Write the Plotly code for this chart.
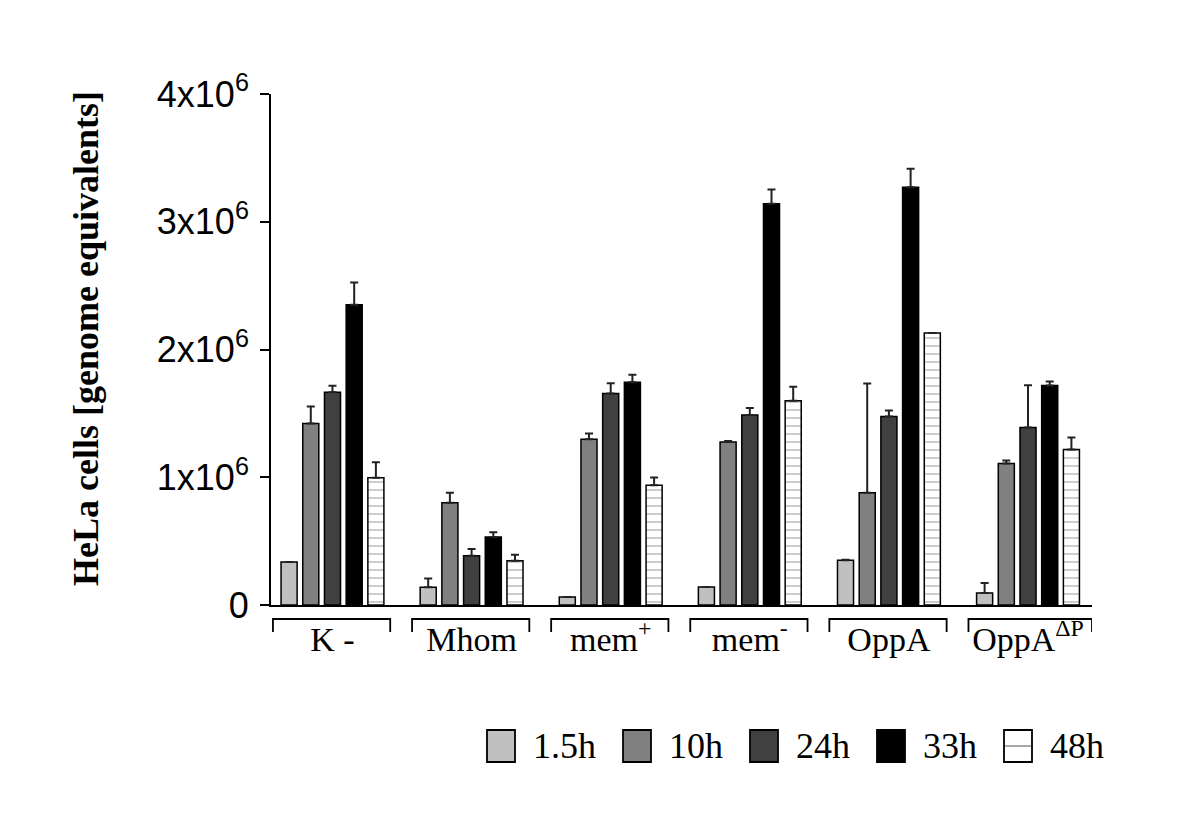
import plotly.graph_objects as go

# data (values in units of 10^6 genome equivalents)
groups = ["K -", "Mhom", "mem<sup>+</sup>", "mem<sup>-</sup>", "OppA", "OppA<sup>ΔP</sup>"]
times = ["1.5h", "10h", "24h", "33h", "48h"]

h1_5 = [0.337, 0.138, 0.063, 0.140, 0.350, 0.094]
h10 = [1.420, 0.800, 1.297, 1.275, 0.879, 1.107]
h24 = [1.666, 0.386, 1.655, 1.488, 1.475, 1.390]
h33 = [2.350, 0.532, 1.743, 3.140, 3.270, 1.719]
h48 = [0.997, 0.347, 0.938, 1.598, 2.130, 1.218]

err1_5 = [0.0, 0.070, 0.0, 0.0, 0.005, 0.078]
err10 = [0.133, 0.078, 0.045, 0.008, 0.854, 0.025]
err24 = [0.050, 0.052, 0.080, 0.054, 0.048, 0.330]
err33 = [0.174, 0.037, 0.060, 0.113, 0.145, 0.030]
err48 = [0.120, 0.047, 0.060, 0.110, 0.0, 0.094]

yticks = [0, 1, 2, 3, 4]
ytick_text = ["0"] + ["%dx10<sup>6</sup>" % v for v in yticks[1:]]

series = [h1_5, h10, h24, h33, h48]
errors = [err1_5, err10, err24, err33, err48]
fills = ["#c0c0c0", "#808080", "#404040", "#000000", "#ffffff"]

SCALE = 1e6
SERIF = "Liberation Serif, Times New Roman, serif"
SANS = "Liberation Sans, Arial, sans-serif"

# plot area in screen pixels; the page body adds an 8px margin
PAGE = 8
L, R, T, B = 271, 1092, 94, 605
XR = [-0.442, 5.46]


def px_x(p):
    return (p - L) / (R - L)


def px_y(p):
    return (B - p) / (B - T)


fig = go.Figure()
for name, vals, errs, col in zip(times, series, errors, fills):
    marker = dict(color=col, line=dict(color="black", width=1.5))
    if name == "48h":
        marker["pattern"] = dict(shape="-", fgcolor="#8c8c8c", bgcolor="white",
                                 size=8, solidity=0.22)
    fig.add_trace(go.Bar(
        name=name, x=groups, y=[v * SCALE for v in vals],
        marker=marker,
        error_y=dict(type="data", symmetric=False,
                     array=[e * SCALE for e in errs],
                     arrayminus=[0] * len(errs),
                     color="#222222", thickness=2, width=4),
        showlegend=False,
    ))

# brackets under each group
shapes = []
for i in range(len(groups)):
    x0 = i - 0.428
    x1 = i + 0.415 if i < len(groups) - 1 else XR[1]
    shapes.append(dict(
        type="path", xref="x", yref="paper",
        path="M %f,%f L %f,%f L %f,%f L %f,%f" % (
            x0, px_y(632), x0, px_y(619), x1, px_y(619), x1, px_y(632)),
        line=dict(color="black", width=1.8),
    ))

# hand-made legend with large swatches
annotations = []
char_w = {".": 0.25}
x = 487
for name, col in zip(times, fills):
    sw_x0, sw_x1 = x, x + 28
    shapes.append(dict(type="rect", xref="paper", yref="paper",
                       x0=px_x(sw_x0), x1=px_x(sw_x1), y0=px_y(762), y1=px_y(730),
                       fillcolor=col, line=dict(color="black", width=1.8)))
    if name == "48h":
        shapes.append(dict(type="line", xref="paper", yref="paper",
                           x0=px_x(sw_x0 + 1), x1=px_x(sw_x1 - 1),
                           y0=px_y(746), y1=px_y(746),
                           line=dict(color="#8a8a8a", width=1.5)))
    annotations.append(dict(text=name, xref="paper", yref="paper",
                            x=px_x(sw_x1 + 16), y=px_y(746),
                            xanchor="left", yanchor="middle", showarrow=False,
                            font=dict(family=SERIF, size=36, color="black")))
    tw = sum(char_w.get(c, 0.5) for c in name) * 36
    x += 28 + 17 + tw + 28

annotations.append(dict(
    text="<b>HeLa cells [genome equivalents]</b>", xref="paper", yref="paper",
    x=px_x(86), y=px_y(339), xanchor="center", yanchor="middle",
    textangle=-90, showarrow=False,
    font=dict(family=SERIF, size=36, color="black")))

fig.update_layout(
    width=1200, height=825,
    paper_bgcolor="white", plot_bgcolor="white",
    margin=dict(l=L - PAGE, r=1200 - R + PAGE, t=T - PAGE, b=825 - B + PAGE),
    barmode="group", bargap=0.22, bargroupgap=0.26,
    shapes=shapes, annotations=annotations,
    showlegend=False,
)
fig.update_xaxes(
    range=XR, showline=True, linecolor="black", linewidth=1.8,
    showgrid=False, ticks="", zeroline=False,
    tickfont=dict(family=SERIF, size=34, color="black"),
    ticklabelstandoff=3,
)
fig.update_yaxes(
    range=[0, 4 * SCALE], showline=True, linecolor="black", linewidth=1.8,
    showgrid=False, zeroline=False,
    tickvals=[v * SCALE for v in yticks], ticktext=ytick_text,
    ticks="outside", ticklen=9, tickwidth=1.8, tickcolor="black",
    tickfont=dict(family=SANS, size=36, color="black"),
    ticklabelstandoff=4,
)

fig.write_html("out.html")
